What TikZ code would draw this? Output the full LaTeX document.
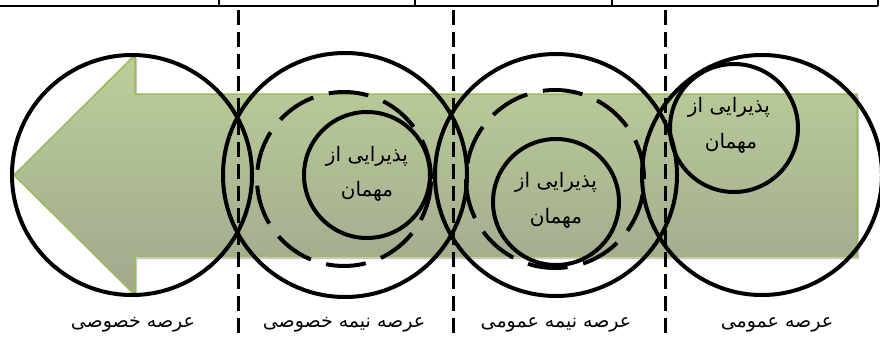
\documentclass[tikz,border=0pt]{standalone}
\usepackage{fontspec}
\newfontfamily\arabicfont[Script=Arabic]{DejaVu Sans}
\TeXXeTstate=1
\definecolor{arrowtop}{RGB}{188,207,154}
\definecolor{arrowbot}{RGB}{160,168,142}
\definecolor{arrowedge}{RGB}{155,187,89}
\tikzset{
  bigring/.style={circle, draw=black, line width=4pt, inner sep=0pt, minimum size=#1},
  dashring/.style={circle, draw=black, line width=4pt, inner sep=0pt, minimum size=#1, dash pattern=on 40pt off 16pt},
  divider/.style={draw=black, line width=3pt, dash pattern=on 15pt off 7pt},
  tableline/.style={draw=black, line width=2pt},
  guesttext/.style={font=\arabicfont\fontsize{20}{22}\selectfont, inner sep=0pt},
  zonelabel/.style={font=\arabicfont\fontsize{19}{21}\selectfont, inner sep=0pt}
}
\begin{document}
\begin{tikzpicture}[x=1pt,y=-1pt]
\useasboundingbox (0,0) rectangle (880,337);
% table border at top
\coordinate (tl) at (0,6);
\coordinate (tr) at (878,6);
\draw[tableline] (tl) -- (tr);
\foreach \x/\n in {219/a,415/b,612/c,878/d}{
  \coordinate (tv\n top) at (\x,0);
  \coordinate (tv\n bot) at (\x,6);
  \draw[tableline] (tv\n top) -- (tv\n bot);
}
% arrow shadow
\fill[black!22] (16,178) -- (137,58) -- (137,97) -- (859,97) -- (859,259) -- (137,259) -- (137,298) -- cycle;
% big arrow
\shade[top color=arrowtop, bottom color=arrowbot, draw=arrowedge, line width=1.5pt]
  (14,175) -- (135,55) -- (135,94) -- (857,94) -- (857,256) -- (135,256) -- (135,295) -- cycle;
% big rings
\node[bigring=240pt] (c1) at (132,175) {};
\node[bigring=244pt] (c2) at (345,175) {};
\node[bigring=242pt] (c3) at (556,175) {};
\node[bigring=240pt] (c4) at (762,175) {};
% dashed rings
\node[dashring=174pt] (d2) at (344,179) {};
\node[dashring=178pt] (d3) at (555,179) {};
% small rings
\node[bigring=126pt] (s2) at (367,175) {};
\node[bigring=126pt] (s3) at (556,202) {};
\node[bigring=128pt] (s4) at (734,128) {};
% texts in small rings
\node[guesttext] (t2a) at (367,156) {\beginR پذیرایی از\endR};
\node[guesttext] (t2b) at (367,191) {\beginR مهمان\endR};
\node[guesttext] (t3a) at (556,182) {\beginR پذیرایی از\endR};
\node[guesttext] (t3b) at (556,218) {\beginR مهمان\endR};
\node[guesttext] (t4a) at (729,107) {\beginR پذیرایی از\endR};
\node[guesttext] (t4b) at (731,143) {\beginR مهمان\endR};
% dashed dividers
\foreach \x/\n in {238/a,453/b,665/c}{
  \coordinate (dv\n top) at (\x,10);
  \coordinate (dv\n bot) at (\x,337);
  \draw[divider] (dv\n top) -- (dv\n bot);
}
% zone labels
\node[zonelabel] (z1) at (133,325) {\beginR عرصه خصوصی\endR};
\node[zonelabel] (z2) at (344,325) {\beginR عرصه نیمه خصوصی\endR};
\node[zonelabel] (z3) at (556,325) {\beginR عرصه نیمه عمومی\endR};
\node[zonelabel] (z4) at (777,325) {\beginR عرصه عمومی\endR};
\end{tikzpicture}
\end{document}
